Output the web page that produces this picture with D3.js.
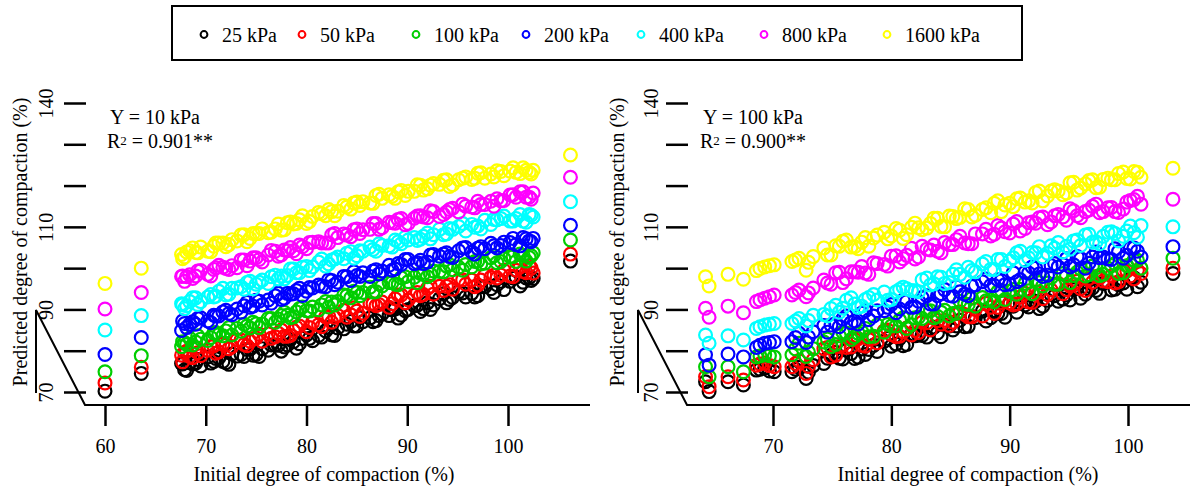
<!DOCTYPE html>
<html>
<head>
<meta charset="utf-8">
<script src="https://cdn.jsdelivr.net/npm/d3@7"></script>
<style>
  body { margin: 0; background: #fff; }
  svg text { font-family: "Liberation Serif", "Times New Roman", serif; fill: #000; }
</style>
</head>
<body>
<div id="chart"></div>
<script>
// ---- data ----
const pressures = ["25 kPa", "50 kPa", "100 kPa", "200 kPa", "400 kPa", "800 kPa", "1600 kPa"];
const colors = ["#000000", "#ff0000", "#00cd00", "#0000ff", "#00ffff", "#ff00ff", "#ffff00"];

const yTicks = [70, 80, 90, 100, 110, 120, 130, 140];
const yLabels = [70, 90, 110, 140];
const leftXTicks = [60, 70, 80, 90, 100];
const rightXTicks = [70, 80, 90, 100];

// left panel, Y = 10 kPa
const leftX = [60.0, 63.6, 67.6, 67.9, 68.4, 69.0, 69.5, 70.2, 70.8, 71.3, 72.0, 72.6, 73.1, 73.8, 74.4, 75.0, 75.6, 76.2, 76.9, 77.5,
  78.1, 78.7, 79.3, 80.0, 80.6, 81.2, 81.9, 82.5, 83.1, 83.7, 84.4, 85.0, 85.6,
  86.3, 86.9, 87.5, 88.2, 88.8, 89.4, 90.1, 90.7, 91.3, 92.0, 92.6,
  93.2, 93.9, 94.5, 95.1, 95.8, 96.4, 97.0, 97.7, 98.3, 98.9,
  99.6, 100.2, 100.8, 101.5, 102.1, 102.5, 106.2,
  67.7, 68.1, 68.7, 69.2, 70.5, 71.0, 71.7, 72.3, 73.5, 74.1, 74.7, 75.3, 76.5, 77.2, 77.8,
  78.4, 79.0, 79.6, 80.3, 81.5, 82.2, 82.8, 84.0, 84.7, 85.3,
  86.6, 87.2, 88.5, 89.1, 89.8, 91.0, 91.6, 92.3,
  93.6, 94.2, 95.5, 96.7, 97.3, 98.6, 99.3, 100.5, 101.2, 101.8, 102.3];
const leftBlack = [70.2, 74.5, 76.9, 75.4, 77.1, 77.0, 76.3, 78.5, 77.4, 78.3, 77.1, 79.2, 78.7, 78.6, 80.4, 79.1, 80.5, 80.1, 81.4, 79.9,
  81.4, 82.2, 81.7, 83.8, 82.4, 83.7, 84.8, 83.8, 85.5, 85.3, 87.1, 86.0, 87.0,
  87.9, 87.3, 88.9, 88.5, 90.1, 88.6, 90.0, 90.9, 89.5, 91.6, 91.1,
  92.6, 91.6, 92.9, 94.2, 93.0, 93.9, 93.3, 95.5, 95.0, 96.0,
  94.8, 96.8, 97.8, 96.6, 97.7, 97.5, 101.7,
  76.8, 75.2, 76.8, 77.9, 77.0, 78.1, 77.4, 76.7, 79.1, 80.3, 78.9, 78.6, 81.4, 81.3, 80.9,
  82.7, 80.6, 83.0, 83.0, 83.3, 85.6, 83.7, 86.4, 86.0, 88.0,
  87.0, 88.5, 89.9, 87.9, 89.7, 91.0, 90.2, 90.0,
  93.8, 92.4, 94.0, 93.0, 95.5, 94.1, 96.8, 97.6, 95.7, 97.6, 97.0];
const leftRed = [72.2, 76.0, 78.9, 79.5, 78.6, 80.6, 78.8, 80.1, 81.2, 79.7, 81.4, 81.0, 82.6, 81.5, 82.3, 83.1, 82.3, 84.1, 83.4, 85.0,
  83.5, 84.9, 86.0, 84.6, 86.8, 86.3, 88.2, 86.9, 88.5, 89.8, 88.7, 89.6, 89.1,
  91.4, 90.9, 91.8, 90.5, 92.6, 93.5, 92.3, 93.5, 93.3, 95.1, 93.7,
  95.6, 95.6, 94.9, 97.2, 96.1, 97.1, 95.9, 98.3, 97.8, 97.6,
  99.5, 98.1, 99.5, 99.2, 100.5, 98.8, 103.4,
  77.3, 79.9, 78.3, 79.5, 81.0, 79.4, 81.6, 80.5, 82.6, 81.2, 82.8, 84.0, 83.0, 84.2, 83.5,
  83.7, 85.7, 86.9, 85.6, 85.8, 88.3, 88.1, 88.1, 90.4, 88.3,
  91.4, 91.2, 91.4, 93.5, 91.6, 94.1, 93.6, 95.6,
  94.6, 96.0, 97.2, 95.5, 97.1, 98.3, 98.3, 97.9, 100.3, 98.9, 100.0];
const leftGreen = [74.9, 78.8, 81.0, 82.0, 83.0, 82.1, 82.8, 82.5, 84.3, 83.9, 84.8, 83.8, 85.4, 86.4, 85.5, 86.5, 86.5, 87.8, 86.9, 88.5,
  88.6, 88.2, 90.2, 89.7, 90.6, 89.9, 91.9, 91.8, 91.9, 93.5, 92.8, 94.1, 94.1,
  95.4, 94.3, 95.7, 96.5, 96.1, 97.7, 96.7, 97.8, 98.7, 97.9, 99.3,
  99.2, 100.5, 99.6, 100.2, 100.9, 100.3, 101.7, 101.2, 102.5, 101.3,
  102.3, 102.8, 101.6, 103.1, 102.6, 103.7, 106.8,
  82.2, 81.5, 81.4, 83.6, 83.2, 84.4, 83.6, 85.6, 84.7, 86.0, 86.9, 85.6, 87.8, 87.7, 89.3,
  88.0, 89.4, 90.6, 89.6, 91.1, 90.6, 91.1, 93.3, 94.4, 93.3,
  94.2, 96.2, 96.5, 96.0, 97.9, 96.5, 98.5, 98.5,
  99.1, 100.8, 99.5, 101.6, 101.0, 103.0, 101.6, 102.8, 103.4, 101.7, 103.0];
const leftBlue = [79.1, 83.2, 84.9, 86.6, 86.4, 86.4, 88.0, 87.2, 88.6, 88.4, 89.8, 88.7, 90.1, 90.9, 90.5, 92.2, 91.1, 92.3, 93.3, 92.4,
  93.9, 93.8, 95.1, 94.4, 95.2, 95.9, 95.5, 97.0, 96.6, 98.0, 97.0, 98.2, 98.9,
  98.0, 99.6, 99.3, 100.7, 99.8, 100.9, 102.1, 101.1, 101.9, 101.5, 103.3,
  102.9, 103.7, 102.6, 104.2, 105.0, 103.9, 104.8, 104.7, 106.0, 104.9,
  106.3, 106.2, 105.7, 107.4, 106.6, 107.2, 110.4,
  87.2, 85.6, 87.0, 87.8, 86.8, 88.4, 89.4, 89.0, 89.3, 91.7, 90.8, 92.0, 91.5, 93.9, 92.7,
  93.7, 94.6, 93.4, 95.3, 95.6, 97.2, 96.0, 97.9, 99.1, 98.0,
  99.3, 98.6, 99.5, 101.1, 102.1, 101.3, 101.1, 103.2,
  103.4, 102.8, 104.9, 103.4, 105.2, 105.4, 105.5, 107.2, 105.4, 107.1, 106.4];
const leftCyan = [85.0, 88.5, 91.4, 90.2, 91.9, 92.8, 91.9, 93.0, 93.0, 94.4, 93.5, 95.1, 95.2, 94.9, 96.8, 96.1, 97.1, 96.3, 98.3, 98.1,
  98.2, 99.8, 98.9, 100.4, 100.3, 101.5, 100.5, 102.0, 102.7, 102.3, 104.0, 103.0, 104.1,
  105.1, 104.1, 105.5, 105.4, 106.8, 105.9, 106.8, 107.4, 107.0, 108.5, 108.1,
  109.4, 108.3, 109.4, 110.1, 109.0, 110.6, 110.2, 111.6, 110.6, 111.7,
  112.6, 111.4, 112.0, 111.4, 113.0, 112.4, 116.1,
  91.1, 90.9, 92.8, 91.2, 93.6, 93.2, 95.1, 93.7, 95.5, 96.5, 95.0, 96.6, 97.9, 97.4, 97.4,
  99.8, 98.9, 100.2, 99.4, 102.2, 101.0, 102.2, 103.6, 102.4, 104.2,
  104.5, 105.9, 105.1, 106.4, 107.5, 106.7, 107.7, 107.1,
  108.1, 109.6, 110.8, 109.9, 109.5, 111.8, 112.0, 111.4, 113.0, 111.1, 112.8];
const leftMagenta = [90.1, 94.1, 98.0, 96.8, 98.4, 98.1, 99.4, 98.5, 99.7, 100.7, 99.9, 100.6, 100.1, 102.0, 101.7, 102.5, 101.5, 103.2, 104.1, 103.2,
  104.2, 104.2, 105.6, 104.7, 106.3, 106.4, 106.1, 108.1, 107.4, 108.3, 107.6, 109.5, 109.3,
  109.4, 110.8, 109.8, 111.1, 110.9, 112.0, 110.8, 112.1, 112.7, 112.2, 113.7,
  112.5, 113.6, 114.5, 113.6, 115.0, 114.8, 116.2, 115.4, 116.2, 116.8,
  116.4, 117.7, 117.2, 118.5, 117.2, 118.2, 122.0,
  98.1, 97.9, 97.5, 99.3, 98.1, 100.1, 100.2, 99.7, 102.0, 100.6, 102.5, 102.1, 104.3, 102.9, 104.4,
  105.0, 103.5, 105.2, 106.2, 106.1, 106.1, 108.4, 108.0, 109.3, 108.4,
  110.8, 109.4, 111.0, 111.8, 110.5, 112.6, 112.4, 113.9,
  113.0, 114.2, 115.5, 114.6, 115.4, 115.0, 116.3, 117.8, 118.5, 117.2, 116.7];
const leftYellow = [96.3, 100.0, 103.3, 102.7, 104.2, 103.8, 105.1, 104.1, 105.3, 106.1, 105.2, 106.9, 106.6, 108.1, 107.2, 108.4, 109.5, 108.6, 109.5, 109.2,
  111.0, 110.7, 111.7, 110.8, 112.5, 113.5, 112.7, 113.7, 113.8, 115.2, 114.3, 116.0, 116.1,
  115.8, 117.6, 116.9, 117.8, 116.9, 118.8, 118.6, 118.6, 120.1, 119.2, 120.5,
  120.3, 121.4, 120.2, 121.4, 122.1, 121.5, 123.0, 121.8, 122.8, 123.6,
  122.4, 123.5, 123.2, 124.3, 123.2, 123.7, 127.4,
  102.3, 103.9, 104.9, 103.7, 104.0, 106.1, 106.1, 105.7, 108.0, 106.4, 108.4, 108.4, 108.7, 110.7, 109.3,
  111.2, 110.8, 112.7, 111.3, 113.2, 114.2, 112.7, 114.8, 115.8, 115.2,
  115.7, 117.9, 117.4, 118.5, 117.6, 120.2, 118.9, 120.1,
  121.3, 119.8, 121.8, 121.8, 123.1, 122.1, 123.4, 124.3, 122.9, 123.7, 122.8];

// right panel, Y = 100 kPa
const rightX = [64.3, 64.6, 66.2, 67.5, 68.6, 69.3, 70.1, 71.6, 72.2, 72.8, 73.4,
  74.3, 74.9, 75.6, 76.2, 76.9, 77.5, 78.1, 78.8,
  79.4, 80.0, 80.7, 81.3, 82.0, 82.6, 83.3, 83.9, 84.5, 85.2, 85.8, 86.5, 87.1,
  87.7, 88.4, 89.0, 89.6, 90.3, 90.9, 91.6, 92.2, 92.8, 93.5, 94.1, 94.8, 95.4,
  96.0, 96.7, 97.3, 97.9, 98.6, 99.2, 99.9, 100.5, 101.1, 103.8,
  68.9, 69.7, 71.9, 73.0,
  74.6, 75.3, 75.9, 76.6, 77.2, 77.8, 78.5,
  79.7, 80.4, 81.0, 81.7, 82.3, 83.0, 83.6, 84.2, 84.9, 85.5, 86.2, 86.8,
  88.0, 88.7, 89.3, 90.0, 90.6, 91.3, 91.9, 92.5, 93.2, 93.8, 94.5, 95.1, 95.7,
  96.4, 97.0, 97.6, 98.3, 98.9, 99.6, 100.2, 100.8];
const rightBlack = [72.5, 70.1, 72.5, 71.7, 75.3, 75.8, 74.9, 74.9, 76.0, 73.3, 76.4,
  76.9, 78.9, 78.2, 80.1, 78.1, 80.4, 80.3, 79.8,
  82.3, 81.1, 83.0, 81.5, 83.6, 83.7, 85.3, 84.3, 86.2, 85.0, 87.4, 85.9, 88.0,
  89.6, 88.0, 89.1, 88.1, 90.8, 91.5, 90.6, 92.0, 90.8, 93.6, 92.0, 93.5, 94.8,
  92.7, 95.0, 94.6, 96.3, 94.7, 96.0, 94.9, 97.7, 96.6, 98.7,
  75.5, 75.1, 75.5, 74.8,
  78.2, 79.6, 78.0, 79.3, 78.4, 79.1, 81.3,
  83.0, 81.6, 81.2, 84.0, 83.8, 83.3, 85.7, 83.4, 86.0, 86.0, 85.8, 88.3,
  87.2, 89.7, 89.0, 91.4, 89.3, 91.1, 92.2, 90.2, 92.2, 93.3, 92.5, 92.3, 95.2,
  93.7, 95.2, 93.9, 96.7, 94.9, 96.4, 97.4, 95.5];
const rightRed = [73.7, 71.3, 73.7, 72.9, 76.5, 77.0, 76.1, 76.1, 77.6, 74.5, 77.8,
  80.5, 78.5, 81.0, 80.8, 82.7, 81.3, 82.7, 81.9,
  84.8, 83.9, 83.5, 85.5, 84.9, 86.9, 85.0, 87.3, 87.4, 86.9, 89.4, 88.2, 90.0,
  88.4, 90.5, 90.5, 92.1, 91.1, 93.0, 91.8, 94.2, 92.6, 94.7, 96.3, 94.8, 96.0,
  95.0, 97.5, 98.0, 96.9, 98.1, 96.7, 99.3, 97.4, 98.7, 100.0,
  76.8, 76.4, 76.9, 76.2,
  80.8, 78.9, 81.3, 80.9, 82.9, 81.1, 83.0,
  85.0, 83.4, 84.6, 83.8, 84.4, 86.8, 88.0, 86.4, 86.1, 89.0, 88.8, 88.2,
  91.5, 89.0, 91.7, 91.6, 91.3, 93.9, 91.7, 94.2, 93.6, 96.0, 93.8, 95.7, 96.8,
  94.6, 96.6, 97.7, 96.7, 96.4, 99.5, 98.1, 99.5];
const rightGreen = [76.1, 73.7, 76.1, 74.9, 78.5, 79.0, 78.5, 79.0, 81.8, 78.6, 80.5,
  82.1, 81.0, 83.6, 84.3, 83.4, 84.6, 83.4, 86.2,
  84.5, 86.0, 87.4, 85.4, 88.0, 87.8, 89.7, 88.3, 89.8, 89.0, 92.0, 91.2, 90.8,
  92.9, 92.3, 94.3, 92.4, 94.8, 94.9, 94.5, 97.1, 95.7, 97.7, 96.1, 98.2, 98.2,
  99.8, 98.4, 100.1, 98.5, 100.6, 98.7, 100.6, 101.9, 100.0, 102.4,
  78.7, 78.8, 80.4, 79.6,
  82.8, 81.5, 84.5, 82.7, 84.2, 85.4, 83.5,
  86.4, 86.0, 88.0, 86.3, 88.1, 89.7, 88.0, 89.3, 88.4, 89.1, 91.4, 92.7,
  92.1, 91.8, 94.6, 94.4, 93.7, 96.3, 93.8, 96.5, 96.4, 96.1, 98.7, 96.5, 99.0,
  98.1, 100.5, 98.2, 100.0, 101.1, 98.9, 100.9, 101.9];
const rightBlue = [79.0, 76.5, 79.2, 78.5, 80.8, 81.8, 82.2, 82.2, 84.2, 82.0, 84.6,
  86.1, 86.2, 85.8, 88.4, 87.2, 89.1, 87.5, 89.7,
  89.7, 91.2, 90.1, 91.9, 90.6, 92.9, 91.3, 93.3, 94.8, 93.2, 94.3, 93.3, 95.9,
  96.7, 95.8, 97.2, 96.0, 98.9, 97.2, 98.8, 100.0, 98.0, 100.6, 100.3, 102.3, 100.8,
  102.3, 101.2, 103.9, 102.7, 102.1, 104.0, 103.1, 104.9, 102.7, 105.2,
  81.3, 82.0, 83.2, 83.3,
  84.5, 86.6, 87.7, 86.8, 86.5, 89.7, 88.4,
  90.5, 89.2, 92.2, 90.5, 92.0, 93.3, 91.3, 93.8, 93.4, 95.5, 93.7, 95.6,
  97.4, 95.8, 97.0, 96.1, 96.7, 99.0, 100.3, 98.6, 98.3, 101.1, 100.9, 100.3, 102.8,
  100.0, 102.7, 102.5, 102.2, 104.7, 102.4, 104.9, 104.1];
const rightCyan = [83.8, 81.8, 83.6, 82.6, 85.4, 86.2, 86.6, 86.6, 87.8, 86.0, 88.6,
  88.8, 90.2, 89.3, 92.2, 91.3, 90.8, 92.9, 92.3,
  94.2, 92.4, 94.8, 95.0, 94.5, 97.2, 95.9, 97.9, 96.3, 98.5, 98.5, 100.2, 99.1,
  101.0, 99.7, 102.1, 100.4, 102.5, 104.1, 102.5, 103.7, 102.7, 105.4, 106.2, 105.3, 106.6,
  105.5, 108.2, 106.4, 107.7, 108.8, 106.6, 109.0, 108.6, 110.3, 110.0,
  85.8, 86.4, 87.2, 87.3,
  88.4, 91.0, 90.3, 92.8, 90.5, 92.4, 93.6,
  92.2, 94.3, 95.4, 94.6, 94.3, 97.6, 96.2, 97.8, 96.5, 99.6, 97.8, 99.4,
  101.6, 99.7, 102.1, 101.7, 103.7, 101.9, 103.8, 105.2, 103.6, 104.8, 103.9, 104.6, 106.8,
  108.0, 106.3, 105.9, 108.7, 108.4, 107.7, 110.2, 107.5];
const rightMagenta = [90.3, 88.1, 90.8, 89.2, 91.9, 92.7, 93.5, 93.5, 94.7, 93.1, 95.2,
  97.1, 96.1, 99.0, 97.4, 99.1, 100.4, 98.5, 101.1,
  100.9, 102.9, 101.5, 103.1, 102.2, 105.3, 104.4, 104.1, 106.2, 105.7, 107.7, 105.9, 108.3,
  108.3, 107.8, 110.3, 108.8, 110.7, 109.0, 111.0, 110.9, 112.4, 111.2, 113.0, 111.6, 113.9,
  112.2, 114.1, 115.5, 113.7, 114.7, 113.5, 116.0, 116.6, 115.5, 116.7,
  92.3, 93.1, 94.1, 94.0,
  96.4, 98.9, 96.5, 99.1, 99.0, 98.8, 101.3,
  100.5, 103.0, 102.3, 104.8, 102.7, 104.6, 105.6, 103.7, 105.7, 106.9, 106.1, 105.9,
  109.4, 108.2, 109.7, 108.5, 111.3, 109.6, 111.2, 112.2, 110.5, 112.7, 112.4, 114.4, 112.7,
  113.7, 115.0, 113.4, 114.6, 113.7, 114.3, 116.4, 117.4];
const rightYellow = [97.9, 95.7, 98.5, 97.3, 99.4, 100.3, 100.8, 101.6, 102.4, 99.5, 102.8,
  104.9, 103.2, 105.3, 106.8, 105.2, 106.3, 105.3, 108.0,
  108.7, 107.8, 109.2, 108.1, 110.9, 109.3, 110.8, 112.1, 110.0, 112.5, 112.3, 114.2, 112.8,
  114.2, 113.4, 116.3, 115.3, 114.9, 117.0, 116.3, 118.3, 116.3, 118.7, 118.7, 118.2, 120.8,
  119.4, 121.2, 119.5, 121.5, 121.4, 122.9, 121.7, 123.4, 122.0, 124.2,
  99.9, 100.6, 102.0, 101.4,
  103.2, 105.4, 106.5, 105.1, 104.7, 107.4, 107.3,
  107.1, 109.6, 107.2, 109.9, 109.8, 109.7, 112.1, 110.1, 112.6, 112.0, 114.4, 112.4,
  114.6, 115.7, 113.7, 115.7, 116.8, 116.0, 115.8, 118.7, 117.5, 119.0, 117.8, 120.7, 118.9,
  120.4, 121.4, 119.6, 121.8, 121.4, 123.3, 121.6, 123.2];

// ---- layout ----
const W = 1192, H = 489;
const svg = d3.select('#chart').append('svg').attr('width', W).attr('height', H);

const y = d3.scaleLinear().domain([70, 140]).range([392, 103]);

function drawPanel(opt) {
  const x = d3.scaleLinear().domain(opt.xDomain).range(opt.xRange);
  const g = svg.append('g');

  // y ticks (only some get a label)
  const yAxis = d3.axisLeft(y).tickValues(yTicks).tickSize(22)
    .tickFormat(d => yLabels.indexOf(d) !== -1 ? d : '');
  const ya = g.append('g')
    .attr('transform', 'translate(' + opt.yAxisX + ',0)')
    .call(yAxis);
  ya.select('.domain').remove();
  ya.selectAll('line').attr('stroke', '#000').attr('stroke-width', 2.5);
  ya.selectAll('text')
    .attr('transform', 'rotate(-90)')
    .attr('x', 0).attr('y', opt.yLabelOff).attr('dy', 0)
    .attr('text-anchor', 'middle')
    .style('font-size', '20px');

  // x axis
  const xAxis = d3.axisBottom(x).tickValues(opt.xTicks).tickSize(21).tickSizeOuter(0);
  const xa = g.append('g')
    .attr('transform', 'translate(0,405)')
    .call(xAxis);
  xa.select('.domain').remove();
  xa.selectAll('line').attr('stroke', '#000').attr('stroke-width', 2.5);
  xa.selectAll('text').attr('y', 48).attr('dy', 0).style('font-size', '20px');

  // broken frame line
  const fx = opt.frameX;
  g.append('path')
    .attr('d', 'M' + fx + ',393 L' + fx + ',310 L' + (fx + 49) + ',405 L' + opt.frameEnd + ',405')
    .attr('fill', 'none').attr('stroke', '#000').attr('stroke-width', 2);

  // titles
  g.append('text')
    .attr('x', opt.xTitleX).attr('y', 481)
    .attr('text-anchor', 'middle').style('font-size', '20px')
    .text('Initial degree of compaction (%)');
  g.append('text')
    .attr('transform', 'translate(' + opt.yTitleX + ',242) rotate(-90)')
    .attr('text-anchor', 'middle').style('font-size', '20px')
    .text('Predicted degree of compaction (%)');

  // annotation
  g.append('text')
    .attr('x', opt.noteX + 3).attr('y', 124).style('font-size', '20px')
    .text(opt.note);
  const r2 = g.append('text')
    .attr('x', opt.noteX).attr('y', 148).style('font-size', '20px');
  r2.append('tspan').text('R');
  r2.append('tspan').attr('dy', -3).style('font-size', '13px').text('2');
  r2.append('tspan').attr('dy', 3).text(' = ' + opt.r2);

  // points
  opt.series.forEach((vals, i) => {
    g.append('g').selectAll('circle')
      .data(d3.zip(opt.xs, vals))
      .join('circle')
      .attr('cx', d => x(d[0]))
      .attr('cy', d => y(d[1]))
      .attr('r', 6.4)
      .attr('fill', 'none')
      .attr('stroke', colors[i])
      .attr('stroke-width', 2.2);
  });
}

drawPanel({
  xDomain: [60, 100], xRange: [105, 508], xTicks: leftXTicks,
  yAxisX: 86, yLabelOff: -33, frameX: 36, frameEnd: 590,
  xTitleX: 324, yTitleX: 27,
  noteX: 107, note: 'Y = 10 kPa', r2: '0.901**',
  xs: leftX,
  series: [leftBlack, leftRed, leftGreen, leftBlue, leftCyan, leftMagenta, leftYellow]
});

drawPanel({
  xDomain: [70, 100], xRange: [773, 1128], xTicks: rightXTicks,
  yAxisX: 688, yLabelOff: -30, frameX: 638, frameEnd: 1190,
  xTitleX: 968, yTitleX: 624,
  noteX: 700, note: 'Y = 100 kPa', r2: '0.900**',
  xs: rightX,
  series: [rightBlack, rightRed, rightGreen, rightBlue, rightCyan, rightMagenta, rightYellow]
});

// legend
const legendPos = [204, 302, 416, 526, 641, 764, 887];
const legend = svg.append('g');
legend.append('rect')
  .attr('x', 172).attr('y', 6).attr('width', 850).attr('height', 54)
  .attr('fill', 'none').attr('stroke', '#000').attr('stroke-width', 2);
const item = legend.selectAll('.item').data(pressures).join('g')
  .attr('class', 'item')
  .attr('transform', (d, i) => 'translate(' + legendPos[i] + ',0)');
item.append('circle')
  .attr('cx', 0).attr('cy', 34.5).attr('r', 3.4)
  .attr('fill', 'none').attr('stroke', (d, i) => colors[i]).attr('stroke-width', 2);
item.append('text')
  .attr('x', 18).attr('y', 42).style('font-size', '20px')
  .text(d => d);
</script>
</body>
</html>
